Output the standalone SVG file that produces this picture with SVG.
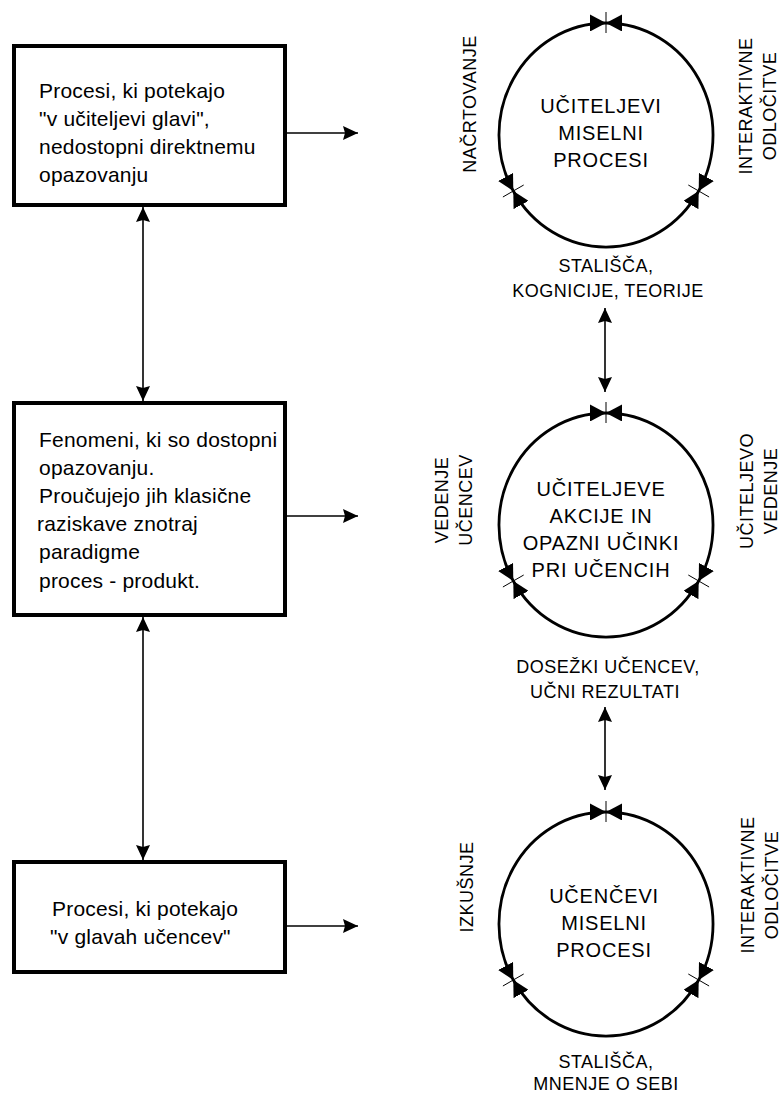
<svg xmlns="http://www.w3.org/2000/svg" width="780" height="1093" viewBox="0 0 780 1093">
<style>
.box{fill:#fff;stroke:#000;stroke-width:4}
.bt{font-family:"Liberation Sans",Arial,sans-serif;font-size:21px;letter-spacing:0.2px;fill:#000}
.ct{font-family:"Liberation Sans",Arial,sans-serif;font-size:20px;letter-spacing:0.8px;fill:#000;text-anchor:middle}
.lt{font-family:"Liberation Sans",Arial,sans-serif;font-size:18px;letter-spacing:0.5px;fill:#000;text-anchor:middle}
.ring{fill:none;stroke:#000;stroke-width:2.8;marker-start:url(#rh);marker-end:url(#rh)}
.tick{stroke:#000;stroke-width:1;fill:none}
.con{fill:none;stroke:#000;stroke-width:1.6}
</style>
<defs>
<marker id="ah" viewBox="0 0 15 15" refX="15" refY="7.5" markerWidth="15" markerHeight="15" markerUnits="userSpaceOnUse" orient="auto-start-reverse"><path d="M0,0.5 L15,7.5 L0,14.5 L2,7.5 z" fill="#000"/></marker>
<marker id="rh" viewBox="0 0 17 17" refX="16" refY="8.5" markerWidth="17" markerHeight="17" markerUnits="userSpaceOnUse" orient="auto-start-reverse"><path d="M0,0 L16,8.5 L0,17 z" fill="#000"/></marker>
</defs>
<rect width="780" height="1093" fill="#fff"/>

<g id="connectors">
<line class="con" x1="143" y1="207" x2="143" y2="401" marker-start="url(#ah)" marker-end="url(#ah)"/>
<line class="con" x1="143" y1="617" x2="143" y2="860" marker-start="url(#ah)" marker-end="url(#ah)"/>
<line class="con" x1="287" y1="133" x2="358" y2="133" marker-end="url(#ah)"/>
<line class="con" x1="287" y1="516" x2="358" y2="516" marker-end="url(#ah)"/>
<line class="con" x1="287" y1="926" x2="358" y2="926" marker-end="url(#ah)"/>
<line class="con" x1="605" y1="308" x2="605" y2="392" marker-start="url(#ah)" marker-end="url(#ah)"/>
<line class="con" x1="605" y1="707" x2="605" y2="790" marker-start="url(#ah)" marker-end="url(#ah)"/>
</g>

<g id="box1">
<rect class="box" x="14" y="46" width="271" height="159"/>
<text class="bt" x="39" y="98">Procesi, ki potekajo</text>
<text class="bt" x="39" y="126">"v učiteljevi glavi",</text>
<text class="bt" x="39" y="154">nedostopni direktnemu</text>
<text class="bt" x="39" y="182">opazovanju</text>
</g>

<g id="box2">
<rect class="box" x="14" y="403" width="271" height="212"/>
<text class="bt" x="39" y="447">Fenomeni, ki so dostopni</text>
<text class="bt" x="39" y="475">opazovanju.</text>
<text class="bt" x="39" y="503">Proučujejo jih klasične</text>
<text class="bt" x="37" y="531">raziskave znotraj</text>
<text class="bt" x="39" y="559">paradigme</text>
<text class="bt" x="39" y="588">proces - produkt.</text>
</g>

<g id="box3">
<rect class="box" x="14" y="862" width="271" height="110"/>
<text class="bt" x="52" y="916">Procesi, ki potekajo</text>
<text class="bt" x="50" y="944">"v glavah učencev"</text>
</g>

<g id="cycle1">
<path class="ring" d="M513.3,191 A107,112 0 0 1 606,23"/>
<path class="ring" d="M606,23 A107,112 0 0 1 698.7,191"/>
<path class="ring" d="M698.7,191 A107,112 0 0 1 513.3,191"/>
<line class="tick" x1="606" y1="12" x2="606" y2="33"/>
<line class="tick" x1="502.9" y1="197" x2="523.7" y2="185"/>
<line class="tick" x1="709.1" y1="197" x2="688.3" y2="185"/>
<text class="ct" x="601" y="113">UČITELJEVI</text>
<text class="ct" x="601" y="140">MISELNI</text>
<text class="ct" x="601" y="167">PROCESI</text>
<text class="lt" transform="translate(476,104) rotate(-90)">NAČRTOVANJE</text>
<text class="lt" transform="translate(752,106) rotate(-90)"><tspan x="0" y="0">INTERAKTIVNE</tspan><tspan x="0" y="24">ODLOČITVE</tspan></text>
<text class="lt" x="606" y="272">STALIŠČA,</text>
<text class="lt" x="608" y="297">KOGNICIJE, TEORIJE</text>
</g>

<g id="cycle2">
<path class="ring" d="M513.3,581 A107,112 0 0 1 606,413"/>
<path class="ring" d="M606,413 A107,112 0 0 1 698.7,581"/>
<path class="ring" d="M698.7,581 A107,112 0 0 1 513.3,581"/>
<line class="tick" x1="606" y1="402" x2="606" y2="423"/>
<line class="tick" x1="502.9" y1="587" x2="523.7" y2="575"/>
<line class="tick" x1="709.1" y1="587" x2="688.3" y2="575"/>
<text class="ct" x="601" y="496">UČITELJEVE</text>
<text class="ct" x="601" y="523">AKCIJE IN</text>
<text class="ct" x="601" y="550">OPAZNI UČINKI</text>
<text class="ct" x="601" y="577">PRI UČENCIH</text>
<text class="lt" transform="translate(448,500) rotate(-90)"><tspan x="0" y="0">VEDENJE</tspan><tspan x="0" y="24">UČENCEV</tspan></text>
<text class="lt" transform="translate(753,491) rotate(-90)"><tspan x="0" y="0">UČITELJEVO</tspan><tspan x="0" y="24">VEDENJE</tspan></text>
<text class="lt" x="608" y="673">DOSEŽKI UČENCEV,</text>
<text class="lt" x="605" y="698">UČNI REZULTATI</text>
</g>

<g id="cycle3">
<path class="ring" d="M513.3,980 A107,112 0 0 1 606,812"/>
<path class="ring" d="M606,812 A107,112 0 0 1 698.7,980"/>
<path class="ring" d="M698.7,980 A107,112 0 0 1 513.3,980"/>
<line class="tick" x1="606" y1="801" x2="606" y2="822"/>
<line class="tick" x1="502.9" y1="986" x2="523.7" y2="974"/>
<line class="tick" x1="709.1" y1="986" x2="688.3" y2="974"/>
<text class="ct" x="604" y="903">UČENČEVI</text>
<text class="ct" x="604" y="930">MISELNI</text>
<text class="ct" x="604" y="957">PROCESI</text>
<text class="lt" transform="translate(473,887) rotate(-90)">IZKUŠNJE</text>
<text class="lt" transform="translate(754,885) rotate(-90)"><tspan x="0" y="0">INTERAKTIVNE</tspan><tspan x="0" y="24">ODLOČITVE</tspan></text>
<text class="lt" x="606" y="1068">STALIŠČA,</text>
<text class="lt" x="606" y="1090">MNENJE O SEBI</text>
</g>
</svg>
